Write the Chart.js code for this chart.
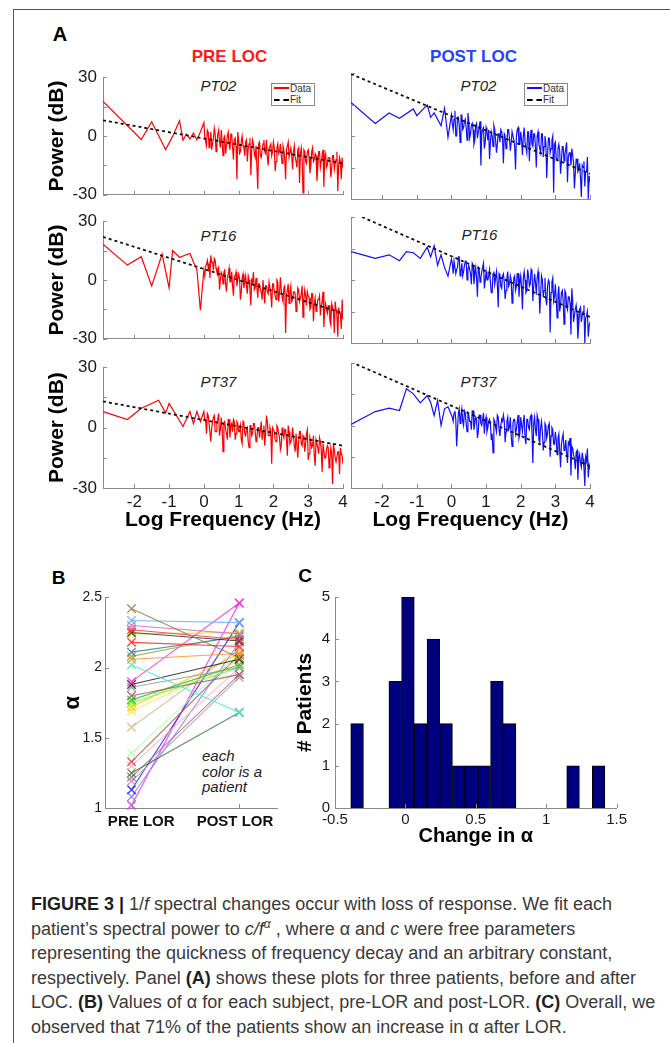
<!DOCTYPE html>
<html><head><meta charset="utf-8">
<script src="https://cdn.jsdelivr.net/npm/chart.js@4.4.1/dist/chart.umd.min.js"></script>
<style>
html,body{margin:0;padding:0;background:#fff;}
body{width:670px;height:1043px;position:relative;overflow:hidden;font-family:'Liberation Sans',Arial,sans-serif;}
canvas{position:absolute;}
.t{position:absolute;white-space:nowrap;line-height:1;transform:translate(-50%,-50%);}
.frame{position:absolute;left:13px;top:9px;width:700px;height:1100px;border-left:1px solid #555;border-top:1px solid #555;}
.legend{position:absolute;box-sizing:border-box;width:44px;height:23px;border:1px solid #8a8a8a;background:#fff;}
.ls{position:absolute;left:2px;width:15px;height:0;}
.lt{position:absolute;left:18px;font-size:10px;line-height:10px;color:#333;}
.note{position:absolute;left:202px;top:748px;font-size:15px;line-height:15.5px;font-style:italic;color:#222;}
.cap{position:absolute;left:31px;top:892px;font-size:18px;line-height:24.6px;color:#3a3a3a;white-space:nowrap;}
.cap b{color:#1e1e1e;}
.cap sup{font-size:12px;line-height:0;vertical-align:7px;}
</style></head><body>
<div class="frame"></div>
<div class="t" style="left:60px;top:34px;font-size:20px;font-weight:bold;">A</div>
<div class="t" style="left:229.5px;top:55.5px;font-size:17px;font-weight:bold;color:#ff1a1a;">PRE LOC</div>
<div class="t" style="left:473.5px;top:55.5px;font-size:17px;font-weight:bold;color:#1f45ff;">POST LOC</div>
<div class="t" style="left:218.5px;top:84.5px;font-size:15px;font-style:italic;color:#222;">PT02</div>
<div class="t" style="left:478.5px;top:84.5px;font-size:15px;font-style:italic;color:#222;">PT02</div>
<div class="t" style="left:218.5px;top:235px;font-size:15px;font-style:italic;color:#222;">PT16</div>
<div class="t" style="left:479.5px;top:234px;font-size:15px;font-style:italic;color:#222;">PT16</div>
<div class="t" style="left:218.5px;top:380.5px;font-size:15px;font-style:italic;color:#222;">PT37</div>
<div class="t" style="left:478.5px;top:381px;font-size:15px;font-style:italic;color:#222;">PT37</div>
<div class="t" style="left:58.5px;top:576.5px;font-size:19px;font-weight:bold;">B</div>
<div class="t" style="left:305px;top:575px;font-size:19px;font-weight:bold;">C</div>
<div class="note">each<br>color is a<br>patient</div>
<div class="cap"><b>FIGURE 3 |</b> 1/<i>f</i> spectral changes occur with loss of response. We fit each<br>patient’s spectral power to <i>c/f</i><sup><i>α</i></sup> , where α and <i>c</i> were free parameters<br>representing the quickness of frequency decay and an arbitrary constant,<br>respectively. Panel <b>(A)</b> shows these plots for three patients, before and after<br>LOC. <b>(B)</b> Values of α for each subject, pre-LOR and post-LOR. <b>(C)</b> Overall, we<br>observed that 71% of the patients show an increase in α after LOR.</div>
<script>
// ---------- DATA ----------
// log-frequency grid: low-frequency vertices, then the dense part (step 0.05)
const logFreq = [-2.9, -2.2, -1.8, -1.5, -1.3, -1.2, -1.1, -1.0, -0.9, -0.8, -0.7, -0.6, -0.5, -0.4, -0.3, -0.2, -0.1,
 0, 0.05, 0.1, 0.15, 0.2, 0.25, 0.3, 0.35, 0.4, 0.45,
 0.5, 0.55, 0.6, 0.65, 0.7, 0.75, 0.8, 0.85, 0.9, 0.95,
 1, 1.05, 1.1, 1.15, 1.2, 1.25, 1.3, 1.35, 1.4, 1.45,
 1.5, 1.55, 1.6, 1.65, 1.7, 1.75, 1.8, 1.85, 1.9, 1.95,
 2, 2.05, 2.1, 2.15, 2.2, 2.25, 2.3, 2.35, 2.4, 2.45,
 2.5, 2.55, 2.6, 2.65, 2.7, 2.75, 2.8, 2.85, 2.9, 2.95,
 3, 3.05, 3.1, 3.15, 3.2, 3.25, 3.3, 3.35, 3.4, 3.45,
 3.5, 3.55, 3.6, 3.65, 3.7, 3.75, 3.8, 3.85, 3.9, 3.95,
 4];
// in-between frequencies of the dense part
const logFreqMid = [0.025, 0.075, 0.125, 0.175, 0.225, 0.275, 0.325, 0.375, 0.425, 0.475,
 0.525, 0.575, 0.625, 0.675, 0.725, 0.775, 0.825, 0.875, 0.925, 0.975,
 1.025, 1.075, 1.125, 1.175, 1.225, 1.275, 1.325, 1.375, 1.425, 1.475,
 1.525, 1.575, 1.625, 1.675, 1.725, 1.775, 1.825, 1.875, 1.925, 1.975,
 2.025, 2.075, 2.125, 2.175, 2.225, 2.275, 2.325, 2.375, 2.425, 2.475,
 2.525, 2.575, 2.625, 2.675, 2.725, 2.775, 2.825, 2.875, 2.925, 2.975,
 3.025, 3.075, 3.125, 3.175, 3.225, 3.275, 3.325, 3.375, 3.425, 3.475,
 3.525, 3.575, 3.625, 3.675, 3.725, 3.775, 3.825, 3.875, 3.925, 3.975];

const pre02 = [17.6, null, -1.8, 7.3, null, null, -7, null, -0.2, null, 7.8, -2.2, 1, -1.5, 1.5, -2, 2,
 6.8, -3, 3, -6, 2, -4, 4, -8, 1, -3,
 3, -10, 0, -5, 2, -7, 1, -12, -1, -22,
 -2, -8, 0, -6, -3, -13, -4, -20, -2, -9,
 -5, -27, -3, -11, -4, -8, -2, -15, -5, -10,
 -3, -18, -6, -9, -4, -14, -7, -22, -5, -11,
 -6, -17, -5, -13, -7, -24, -6, -29, -8, -14,
 -7, -19, -8, -13, -9, -23, -8, -16, -10, -26,
 -9, -15, -11, -21, -10, -17, -12, -28, -11, -22,
 -16];
const pre02Mid = [0, -5, 2, -3, -7, -1, 1, -4, 3, -6,
 -3, -1, -9, 0, -4, 1, -6, -2, -5, 2,
 -9, -3, -5, -10, -2, -6, -1, -7, -4, -11,
 -5, -4, -10, -7, -2, -9, -11, -6, -4, -8,
 -6, -13, -4, -8, -10, -5, -12, -7, -3, -11,
 -10, -8, -11, -16, -6, -9, -12, -7, -13, -8,
 -11, -15, -6, -12, -10, -16, -8, -13, -7, -11,
 -16, -11, -12, -17, -10, -14, -8, -15, -13, -11];

const post02 = [16, 6, 11, 8.4, null, null, 12.9, 9.7, null, null, 14.8, 8.9, 11, null, 4.9, 13.2, -0.6,
 10, 3, 12, 0, 9, -3, 10, 4, 8, -2,
 7, 1, 6, -4, 5, -1, 4, -14, 3, -6,
 4, -2, -11, 2, -5, 3, -8, 1, -3, 2,
 -13, 0, -4, 3, -7, 2, -2, -16, 3, -4,
 2, -9, 4, -3, 2, -12, 3, -5, 1, -15,
 2, -6, 1, -10, 0, -20, -1, -8, -2, -27,
 -3, -11, -4, -18, -5, -12, -6, -22, -8, -14,
 -9, -25, -11, -17, -13, -29, -15, -24, -17, -30,
 -22];
const post02Mid = [6, 8, 0, 9, 5, 10, 3, 7, 4, 11,
 -1, 5, 3, -2, 6, 2, 7, 1, 4, -3,
 2, 3, -3, 0, 5, -2, -4, 1, 3, -1,
 1, -6, 3, -1, -3, 2, -5, 0, 4, -4,
 -2, 0, -3, -8, 2, -1, -4, 1, -5, 0,
 -4, -8, 1, -5, -3, -9, -1, -6, 0, -4,
 -11, -6, -7, -12, -5, -9, -3, -10, -8, -6,
 -13, -18, -11, -16, -20, -14, -12, -17, -10, -19];

const pre16 = [18.3, 7.6, 11.9, -3, null, 13.2, null, -4, 15, null, 11.6, null, null, 13.5, 9.2, 5.2, -15.4,
 5, 7, 10, 8, 12.6, 9, 11, 6, 3, -5,
 4, -2, 5, -6, 3, -1, 4, -8, 2, -3,
 3, -10, 1, -4, 2, -7, 0, -13, -1, -5,
 1, -9, -2, -6, 0, -12, -3, -7, -1, -14,
 -2, -8, 0, -11, 1.4, -9, -4, -27, -5, -12,
 -3, -10, -6, -16, -4, -11, -7, -19, -5, -13,
 -8, -15, -7, -21, -9, -14, -10, -18, -11, -24,
 -12, -17, -13, -23, -14, -27, -15, -29, -17, -25,
 -20];
const pre16Mid = [2, 8, 6, 1, 9, 5, 10, 4, 7, 0,
 3, 4, -2, 1, 6, -1, -3, 2, 4, 0,
 1, -6, 3, -1, -3, 2, -5, 0, 4, -4,
 -4, -2, -5, -10, 0, -3, -6, -1, -7, -2,
 -6, -10, -1, -7, -5, -11, -3, -8, -2, -6,
 -11, -6, -7, -12, -5, -9, -3, -10, -8, -6,
 -9, -14, -7, -12, -16, -10, -8, -13, -6, -15,
 -15, -13, -21, -12, -16, -11, -18, -14, -17, -10];

const post16 = [13.5, 10.3, 12, 9.2, 13.5, null, 13, null, 10.3, null, 15.6, 11, 16.3, 7, 12, 6, 1.8,
 10, 3, 9, 5, 11, 2, 8, 4, 9, 0,
 7, 3, 8, -2, 6, -8, 5, 1, 6, -4,
 4, 0, 5, -6, 3, -2, 4, -13, 2, -4,
 3, -9, 1, -3, 2, -11, 1, -5, 3, -8,
 2, -14, 4, -6, 5, -3, 5, -10, 3, -7,
 4, -16, 2, -8, 1, -12, 0, -25, -1, -10,
 -2, -18, -3, -12, -5, -21, -6, -14, -8, -26,
 -10, -17, -12, -28, -14, -20, -15, -30, -17, -27,
 -20];
const post16Mid = [8, 9, 3, 6, 11, 4, 2, 7, 9, 5,
 5, -2, 7, 3, 1, 6, -1, 4, 8, 0,
 0, 2, -1, -6, 4, 1, -2, 3, -3, 2,
 -1, -5, 4, -2, 0, -6, 2, -3, 3, -1,
 -4, 1, 0, -5, 2, -2, 4, -3, -1, 1,
 -2, -7, 0, -5, -9, -3, -1, -6, 1, -8,
 -9, -7, -15, -6, -10, -5, -12, -8, -11, -4,
 -20, -14, -16, -21, -13, -17, -12, -18, -15, -22];

const pre37 = [8, 4, 9.6, null, 13.6, null, 7.2, 12, null, null, null, 0.5, null, 8, 2, 8, 3,
 8, 4, 7, 2, -7, 3, 6, -2, 4, -4,
 5, -12, 3, -3, 4, -5, 2, 4, -6, 3,
 -2, 1, -8, 2, -4, 0, -10, 1, -3, 2,
 -7, 0, -5, 3, -2, -9, 6, -4, 0, -18,
 -1, -6, 1, -3, -11, 0, -5, -1, -14, -2,
 -7, 0, -9, -3, -15, -2, -8, -4, -12, -3,
 -16, -5, -10, -4, -19, -6, -13, -7, -22, -8,
 -15, -9, -20, -10, -28, -11, -17, -12, -23, -13,
 -18];
const pre37Mid = [4, -3, 6, 2, 0, 5, -2, 3, 7, -1,
 0, 2, -1, -6, 4, 1, -2, 3, -3, 2,
 -2, -6, 3, -3, -1, -7, 1, -4, 2, -2,
 -5, 0, -1, -6, 1, -3, 3, -4, -2, 0,
 -2, -7, 0, -5, -9, -3, -1, -6, 1, -8,
 -6, -4, -12, -3, -7, -2, -9, -5, -8, -1,
 -13, -7, -9, -14, -6, -10, -5, -11, -8, -15,
 -11, -10, -16, -13, -8, -15, -17, -12, -10, -14];

const post37 = [0.5, 6.7, 8.3, 7.2, 17.6, null, 15.2, null, 10.9, null, 14.4, 11, 4.8, 12, 0, 8, 9,
 5, 2, 7, -10, 6, 1, 8, 0, 6, -3,
 5, 2, 7, -2, 4, -6, 5, 1, 3, -4,
 4, -1, 3, -7, -13, 2, -3, 4, -5, 3,
 5, -8, 2, -2, 4, -10, 3, -4, 2, -6,
 4, -3, 5, -9, 3, -2, 5, -18, 4, -5,
 3, -8, 2, -12, 1, -6, 0, -15, -1, -9,
 -3, -14, -4, -20, -6, -12, -7, -18, -9, -24,
 -11, -16, -13, -26, -14, -20, -16, -29, -17, -25,
 -21];
const post37Mid = [4, 6, 3, -2, 8, 5, 2, 7, 1, 6,
 2, -2, 7, 1, 3, -3, 5, 0, 6, 2,
 -3, 2, 1, -4, 3, -1, 5, -2, 0, 2,
 2, -3, 4, -1, -5, 1, 3, -2, 5, -4,
 0, 2, -6, 3, -1, 4, -3, 1, -2, 5,
 -7, -1, -3, -8, 0, -4, 1, -5, -2, -9,
 -7, -6, -12, -9, -4, -11, -13, -8, -6, -10,
 -14, -21, -12, -16, -18, -13, -20, -15, -11, -19];

// 1/f fit lines (value at x = fitX[0] and fitX[1])
const fitX = [-2.9, 4];
const fitPre02 = [8, -14];
const fitPost02 = [29.5, -18];
const fitPre16 = [22, -17];
const fitPost16 = [32.3, -17.6];
const fitPre37 = [13, -9];
const fitPost37 = [30.5, -19.5];

// Panel B: alpha per patient
const bCategories = ['PRE LOR', 'POST LOR'];
const bPre  = [2.42, 2.335, 2.30, 2.27, 2.25, 2.24, 2.18, 2.11, 2.08, 2.06, 2.02, 1.90, 1.88, 1.86, 1.80, 1.77, 1.75, 1.72, 1.69, 1.575, 1.39, 1.33, 1.30, 1.25, 1.22, 1.19, 1.13, 1.08, 1.02];
const bPost = [2.07, 2.32, 2.24, 2.20, 2.19, 2.25, 2.15, 2.22, 2.23, 2.10, 1.68, 2.46, 2.06, 2.00, 1.95, 2.02, 2.00, 2.10, 2.05, 2.13, 2.10, 2.09, 2.00, 1.68, 1.95, 1.93, 2.32, 2.18, 2.46];
const bColors = ['#9c7a3c', '#5fb4ff', '#d070d0', '#ff3030', '#303030', '#dede00', '#ff2020', '#3a7f9f', '#8fae4f', '#ff9020', '#40f0c8', '#ff30d0', '#202020', '#90a090', '#a05a6a', '#20c020', '#60ff20', '#ffc800', '#ffe040', '#d0b890', '#b0ffb0', '#b05050', '#ffb0b0', '#3f7f3f', '#a07090', '#c090b0', '#2020ff', '#8080ff', '#ff20ff'];

// Panel C: histogram of change in alpha
const cBinCenters = [-0.343, -0.253, -0.162, -0.072, 0.018, 0.108, 0.199, 0.289, 0.379, 0.469, 0.560, 0.650, 0.740, 0.830, 0.921, 1.011, 1.101, 1.191, 1.282, 1.372];
const cCounts = [2, 0, 0, 3, 5, 2, 4, 2, 1, 1, 1, 3, 2, 0, 0, 0, 0, 1, 0, 1];

// ---------- RENDERING ----------
Chart.defaults.font.family = "'Liberation Sans', Arial, sans-serif";
Chart.defaults.color = '#1a1a1a';
const AXIS = '#8a8a8a';

const inwardTicks = {
  id: 'inwardTicks',
  afterDraw(chart, args, o) {
    const {ctx, chartArea: a, scales} = chart;
    const len = o.len || 4;
    ctx.save();
    ctx.strokeStyle = AXIS; ctx.lineWidth = 1;
    ctx.beginPath();
    const xv = o.xValues || scales.x.ticks.map(t => t.value);
    const yv = o.yValues || scales.y.ticks.map(t => t.value);
    xv.forEach(v => { const p = Math.round(scales.x.getPixelForValue(v)) + 0.5; ctx.moveTo(p, a.bottom); ctx.lineTo(p, a.bottom - len); });
    yv.forEach(v => { const p = Math.round(scales.y.getPixelForValue(v)) + 0.5; ctx.moveTo(a.left, p); ctx.lineTo(a.left + len, p); });
    ctx.stroke();
    ctx.restore();
  }
};

function addCanvas(left, top, w, h) {
  const c = document.createElement('canvas');
  c.width = w; c.height = h;
  c.style.left = left + 'px'; c.style.top = top + 'px';
  c.style.width = w + 'px'; c.style.height = h + 'px';
  document.body.appendChild(c);
  return c;
}

function spectrum(p) {
  const pts = [];
  logFreq.forEach((x, i) => { if (p.series[i] !== null) pts.push({x: x, y: p.series[i]}); });
  logFreqMid.forEach((x, i) => { pts.push({x: x, y: p.mid[i]}); });
  pts.sort((a, b) => a.x - b.x);
  const canvas = addCanvas(p.left, p.top, p.w, p.h);
  new Chart(canvas, {
    type: 'scatter',
    data: { datasets: [
      { label: 'Fit', data: fitX.map((x, i) => ({x: x, y: p.fit[i]})), showLine: true, borderColor: '#111', borderWidth: 1.8, borderDash: [3, 3], pointRadius: 0, order: 0 },
      { label: 'Data', data: pts, showLine: true, borderColor: p.color, borderWidth: 1.2, pointRadius: 0, order: 1 }
    ]},
    options: {
      responsive: false, animation: false, events: [],
      layout: { padding: { top: 12, right: 12, bottom: p.padBottom, left: 0 } },
      plugins: { legend: { display: false }, tooltip: { enabled: false }, inwardTicks: {} },
      scales: {
        x: { type: 'linear', min: -2.9, max: 4,
             grid: { display: false, drawTicks: false }, border: { color: AXIS },
             ticks: { display: p.xLabels, stepSize: 1, includeBounds: false, padding: 4, font: { size: 17 }, color: '#1a1a1a', maxRotation: 0, autoSkip: false },
             title: { display: p.xLabels, text: 'Log Frequency (Hz)', font: { size: 21, weight: 'bold' }, color: '#000', padding: 0 },
             afterFit: s => { s.height = p.xH; } },
        y: { min: -30, max: 30,
             grid: { display: false, drawTicks: false }, border: { color: AXIS },
             ticks: { display: p.yLabels, stepSize: 15, padding: 6, font: { size: 17 }, color: '#1a1a1a', callback: v => (v % 30 === 0 ? String(v) : '') },
             title: { display: p.yLabels, text: 'Power (dB)', font: { size: 21, weight: 'bold' }, color: '#000', padding: 0 },
             afterFit: s => { s.width = p.yW; } }
      }
    },
    plugins: [inwardTicks]
  });
}

const RED = '#ff0000', BLUE = '#1010ff';
const colL = { left: 45, w: 310, yW: 58, yLabels: true };
const colR = { left: 343, w: 259, yW: 8, yLabels: false };
const rows = [
  { top: 61, h: 150, xH: 8, padBottom: 4, xLabels: false },
  { top: 205, h: 150, xH: 8, padBottom: 4, xLabels: false },
  { top: 351, h: 182, xH: 45, padBottom: 0, xLabels: true }
];
const panels = [
  [pre02, pre02Mid, fitPre02, post02, post02Mid, fitPost02],
  [pre16, pre16Mid, fitPre16, post16, post16Mid, fitPost16],
  [pre37, pre37Mid, fitPre37, post37, post37Mid, fitPost37]
];
panels.forEach((pr, r) => {
  spectrum(Object.assign({}, colL, rows[r], { series: pr[0], mid: pr[1], fit: pr[2], color: RED }));
  spectrum(Object.assign({}, colR, rows[r], { series: pr[3], mid: pr[4], fit: pr[5], color: BLUE }));
});

// Panel B
(function () {
  const canvas = addCanvas(60, 586, 225, 252);
  new Chart(canvas, {
    type: 'scatter',
    data: { datasets: bPre.map((v, i) => ({
      data: [{x: 1, y: v}, {x: 2, y: bPost[i]}],
      showLine: true, borderColor: bColors[i] + 'd8', backgroundColor: bColors[i] + 'd8',
      borderWidth: 1.1, pointStyle: 'crossRot', pointRadius: 6, pointBorderWidth: 1.4, clip: false
    })) },
    options: {
      responsive: false, animation: false, events: [],
      layout: { padding: { top: 10, right: 8, bottom: 0, left: 0 } },
      plugins: { legend: { display: false }, tooltip: { enabled: false }, inwardTicks: { xValues: [1, 2] } },
      scales: {
        x: { type: 'linear', min: 0.754, max: 2.35,
             afterBuildTicks: s => { s.ticks = [{ value: 1.09 }, { value: 1.96 }]; },
             grid: { display: false, drawTicks: false }, border: { color: AXIS },
             ticks: { padding: 5, font: { size: 15, weight: 'bold' }, color: '#111', maxRotation: 0, autoSkip: false, callback: (v, i) => bCategories[i] },
             afterFit: s => { s.height = 30; } },
        y: { min: 1, max: 2.5,
             grid: { display: false, drawTicks: false }, border: { color: AXIS },
             ticks: { stepSize: 0.5, padding: 3, font: { size: 14 }, color: '#1a1a1a', callback: v => String(Math.round(v * 10) / 10) },
             title: { display: true, text: 'α', font: { size: 22, weight: 'bold' }, color: '#000', padding: 0 },
             afterFit: s => { s.width = 45; } }
      }
    },
    plugins: [inwardTicks]
  });
})();

// Panel C
(function () {
  const canvas = addCanvas(293, 583, 337, 265);
  new Chart(canvas, {
    type: 'bar',
    data: { datasets: [{
      data: cBinCenters.map((x, i) => ({x: x, y: cCounts[i]})),
      backgroundColor: '#00007f', borderColor: '#000', borderWidth: 1,
      barPercentage: 1, categoryPercentage: 1
    }] },
    options: {
      responsive: false, animation: false, events: [],
      layout: { padding: { top: 10, right: 12, bottom: 0, left: 0 } },
      plugins: { legend: { display: false }, tooltip: { enabled: false }, inwardTicks: {} },
      scales: {
        x: { type: 'linear', min: -0.5, max: 1.5, offset: false,
             grid: { display: false, drawTicks: false, offset: false }, border: { color: AXIS },
             ticks: { stepSize: 0.5, padding: 3, font: { size: 15 }, color: '#1a1a1a', maxRotation: 0, autoSkip: false, callback: v => String(Math.round(v * 10) / 10) },
             title: { display: true, text: 'Change in α', font: { size: 20, weight: 'bold' }, color: '#000', padding: 0 },
             afterFit: s => { s.height = 40; } },
        y: { min: 0, max: 5,
             grid: { display: false, drawTicks: false }, border: { color: AXIS },
             ticks: { stepSize: 1, padding: 5, font: { size: 15 }, color: '#1a1a1a' },
             title: { display: true, text: '# Patients', font: { size: 21, weight: 'bold' }, color: '#000', padding: 0 },
             afterFit: s => { s.width = 42; } }
      }
    },
    plugins: [inwardTicks]
  });
})();
</script>
<div class="legend" style="left:271px;top:83px;">
  <div class="ls" style="top:3px;border-top:2px solid #ff0000;"></div><div class="lt" style="top:0px;">Data</div>
  <div class="ls" style="top:14.5px;border-top:2px dashed #000;"></div><div class="lt" style="top:11px;">Fit</div>
</div>
<div class="legend" style="left:524px;top:83px;">
  <div class="ls" style="top:3px;border-top:2px solid #1010ff;"></div><div class="lt" style="top:0px;">Data</div>
  <div class="ls" style="top:14.5px;border-top:2px dashed #000;"></div><div class="lt" style="top:11px;">Fit</div>
</div>
</body></html>
